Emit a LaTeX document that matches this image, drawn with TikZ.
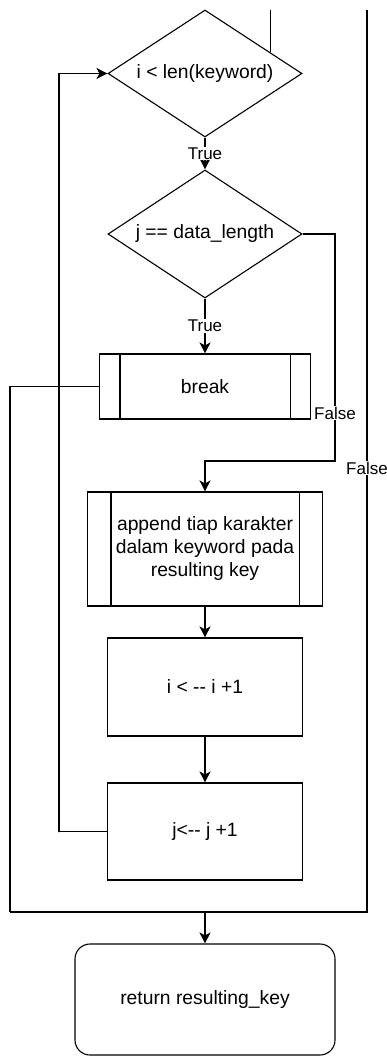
\documentclass[tikz,border=0pt]{standalone}
\usepackage{fontspec}
\setmainfont{Liberation Sans}
\usetikzlibrary{shapes.geometric,arrows.meta,calc}
\begin{document}
\begin{tikzpicture}[x=1pt,y=-1pt,line width=1.1pt,
  every node/.style={font=\fontsize{19.3}{23}\selectfont},
  dec/.style={diamond,draw,inner sep=0pt,minimum width=194pt,minimum height=127pt},
  proc/.style={rectangle,draw,inner sep=0pt,align=center},
  arr/.style={-{Stealth[length=11pt,width=11pt,inset=3pt]}},
  lbl/.style={fill=white,font=\fontsize{17}{20}\selectfont,inner sep=1pt}]
\useasboundingbox (0,0) rectangle (387,1056);

% nodes
\node[dec,label={center:i < len(keyword)}] (d1) at (205,73.5) {};
\node[dec,minimum height=128pt,label={center:j == data\_length}] (d2) at (205,234) {};
\node[proc,minimum width=211pt,minimum height=65pt] (brk) at (205,386.5) {break};
\node[proc,minimum width=235pt,minimum height=114pt] (app) at (205,549) {append tiap karakter\\dalam keyword pada\\resulting key};
\node[proc,minimum width=195pt,minimum height=98pt] (inc) at (205,687) {i < -{}- i +1};
\node[proc,minimum width=195pt,minimum height=97pt] (jinc) at (205,831.5) {j<-{}- j +1};
\node[proc,rounded corners=15pt,minimum width=260pt,minimum height=111pt] (ret) at (205,999.5) {return resulting\_key};

% subroutine inner lines
\draw ([xshift=21pt]brk.north west) -- ([xshift=21pt]brk.south west);
\draw ([xshift=-21pt]brk.north east) -- ([xshift=-21pt]brk.south east);
\draw ([xshift=24pt]app.north west) -- ([xshift=24pt]app.south west);
\draw ([xshift=-24pt]app.north east) -- ([xshift=-24pt]app.south east);

% coordinates
\coordinate (tl) at (270,10);
\coordinate (tr) at (367,10);
\coordinate (br) at (367,912);
\coordinate (bl) at (10,912);
\coordinate (mj) at (205,912);
\coordinate (lb) at (59,832);
\coordinate (fr) at (335,461);

% connectors
\coordinate (de) at ($(d1.north)!0.67!(d1.east)$);
\draw (de |- tl) -- (de);
\draw[arr] (d1.south) -- node[lbl]{True} (d2.north);
\draw[arr] (d2.south) -- node[lbl]{True} (brk.north);
\draw[arr] (d2.east) -| (fr) -| (app.north);
\node[lbl] at (335,413) {False};
\draw[arr] (app.south) -- (inc.north);
\draw[arr] (inc.south) -- (jinc.north);
\draw[arr] (jinc.west) -| (lb) |- (d1.west);
\draw (brk.west) -| (bl);
\draw (tr) -- node[lbl,pos=0.508]{False} (br) -- (bl);
\draw[arr] (mj) -- (ret.north);
\end{tikzpicture}
\end{document}
